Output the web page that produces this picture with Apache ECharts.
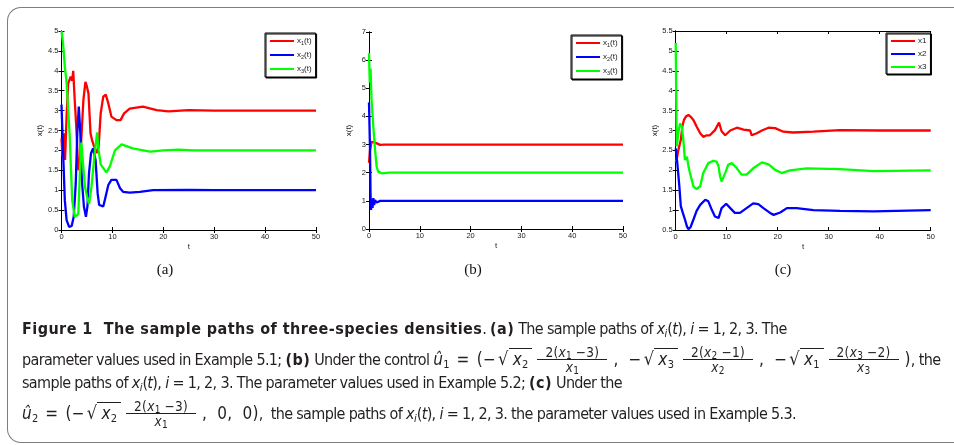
<!DOCTYPE html>
<html>
<head>
<meta charset="utf-8">
<script src="https://cdn.jsdelivr.net/npm/echarts@6/dist/echarts.min.js"></script>
<style>
  html, body { margin: 0; background: #fff; overflow: hidden; width: 954px; height: 445px; }
  #frame { position: absolute; left: 7px; top: 7px; width: 1000px; height: 434px; border: 1.5px solid #7d7d7d;
           border-right: none; border-radius: 14px 0 0 14px; }
  #chart { position: absolute; left: 0; top: 0; width: 954px; height: 445px; }
  .cap { position: absolute; left: 22px; font-family: "Liberation Sans Narrow", "DejaVu Sans Condensed", sans-serif;
         font-size: 16px; letter-spacing: -0.65px; color: #231f20; white-space: nowrap; line-height: 22px; height: 22px; }
  .cap b { font-weight: bold; letter-spacing: 0.45px; }
  .cap sub { font-size: 11px; vertical-align: -3px; line-height: 0; letter-spacing: 0; }
  .m { font-size: 17px; letter-spacing: 0.3px; }
  .eq { margin: 0 7px; }
  .rt { font-size: 18px; margin-left: 2px; }
  .frac { display: inline-flex; flex-direction: column; vertical-align: middle; font-size: 13.5px; letter-spacing: 0.3px;
          text-align: center; line-height: 14px; margin: 0 6px 0 5px; }
  .frac sub { font-size: 10px; vertical-align: -2px; }
  .num { border-bottom: 1px solid #231f20; padding: 0 8px; }
  .ov { border-top: 1px solid #231f20; padding: 0 4px; }
  .cm { margin-right: 10px; }
  .cl { margin-right: 8px; }
</style>
</head>
<body>
<div id="frame"></div>
<div id="chart"></div>
<div class="cap" style="top:318px"><b>Figure 1&nbsp;&nbsp;The sample paths of three-species densities</b>. <b>(a)</b> The sample paths of <i>x<sub>i</sub></i>(<i>t</i>), <i>i</i> = 1, 2, 3. The</div>
<div class="cap" style="top:345px">parameter values used in Example 5.1; <b>(b)</b> Under the control <span class="m"><i>û</i><sub>1</sub><span class="eq">=</span>(−<span class="rt">√</span><span class="ov"><i>x</i><sub>2</sub></span><span class="frac"><span class="num">2(<i>x</i><sub>1</sub> −3)</span><span><i>x</i><sub>1</sub></span></span><span class="cm">,</span>−<span class="rt">√</span><span class="ov"><i>x</i><sub>3</sub></span><span class="frac"><span class="num">2(<i>x</i><sub>2</sub> −1)</span><span><i>x</i><sub>2</sub></span></span><span class="cm">,</span>−<span class="rt">√</span><span class="ov"><i>x</i><sub>1</sub></span><span class="frac"><span class="num">2(<i>x</i><sub>3</sub> −2)</span><span><i>x</i><sub>3</sub></span></span>)</span>, the</div>
<div class="cap" style="top:372px">sample paths of <i>x<sub>i</sub></i>(<i>t</i>), <i>i</i> = 1, 2, 3. The parameter values used in Example 5.2; <b>(c)</b> Under the</div>
<div class="cap" style="top:399px"><span class="m"><i>û</i><sub>2</sub><span class="eq">=</span>(−<span class="rt">√</span><span class="ov"><i>x</i><sub>2</sub></span><span class="frac"><span class="num">2(<i>x</i><sub>1</sub> −3)</span><span><i>x</i><sub>1</sub></span></span><span class="cm">,</span>0<span class="cm">,</span>0)</span><span class="cl">,</span>the sample paths of <i>x<sub>i</sub></i>(<i>t</i>), <i>i</i> = 1, 2, 3. the parameter values used in Example 5.3.</div>
<script>
// 数据：每个子图三条样本路径 [t, x]
const aX1 = [[0,2.3],[0.2,1.84],[0.45,2.43],[0.7,1.76],[1,2.85],[1.3,3.68],[1.8,3.85],[2.1,3.75],[2.3,4.0],[2.6,3.26],[2.9,2.6],[3.3,1.5],[3.7,1.84],[4.3,3.26],[4.7,3.72],[5,3.6],[5.3,3.43],[5.7,2.43],[6,2.26],[6.4,2.1],[6.9,1.93],[7.3,2.1],[7.7,2.93],[8.2,3.35],[8.7,3.4],[9.2,3.18],[9.8,2.85],[10.8,2.76],[11.6,2.76],[12.3,2.93],[13.4,3.05],[16,3.1],[18.7,3.01],[21,2.98],[25,3.01],[30,3.0],[40,3.0],[50,3.0]];
const aX2 = [[0,3.15],[0.3,2.0],[0.65,0.75],[1,0.25],[1.5,0.08],[2,0.1],[2.4,0.33],[2.8,1.17],[3.1,2.43],[3.4,3.1],[3.7,2.43],[4,1.26],[4.4,0.59],[4.8,0.33],[5.1,0.6],[5.4,1.42],[5.8,1.93],[6.2,2.05],[6.7,1.75],[7.1,0.92],[7.4,0.63],[8.2,0.59],[8.5,0.75],[9.2,1.13],[9.8,1.26],[10.8,1.26],[11.5,1.05],[12.1,0.96],[13.4,0.94],[15.4,0.96],[18,1.0],[25,1.01],[30,1.0],[50,1.0]];
const aX3 = [[0,5.0],[0.3,4.7],[0.65,4.1],[1,3.7],[1.6,2.4],[2.1,0.75],[2.6,0.33],[3.3,0.4],[3.6,1.4],[3.9,2.2],[4.2,2.25],[4.6,1.1],[5,0.85],[5.4,0.65],[5.9,1.1],[6.5,1.9],[7,2.45],[7.3,2.0],[7.7,1.65],[8.8,1.45],[9.5,1.6],[10.5,2.0],[11.8,2.15],[14,2.05],[17.4,1.97],[20,2.0],[23,2.02],[26,2.0],[50,2.0]];

const bX1 = [[0,2.35],[0.2,2.8],[0.5,3.1],[1.2,3.07],[2.2,2.99],[3,3.0],[50,3.0]];
const bX2 = [[0,4.5],[0.2,2.8],[0.3,1.27],[0.4,0.68],[0.55,1.05],[0.7,0.75],[0.85,1.1],[1.0,0.85],[1.2,1.03],[1.5,0.94],[2.2,1.0],[50,1.0]];
const bX3 = [[0,6.25],[0.15,5.2],[0.3,5.7],[0.5,4.6],[0.85,3.64],[1.2,2.8],[1.5,2.22],[1.8,2.04],[2.5,1.98],[4,2.0],[50,2.0]];

const cX1 = [[0,2.2],[0.3,2.34],[0.5,2.5],[1,2.76],[1.3,3.1],[1.6,3.26],[2,3.35],[2.5,3.39],[2.9,3.35],[3.5,3.26],[4.1,3.1],[4.8,2.93],[5.4,2.84],[6.1,2.88],[6.7,2.88],[7.7,3.01],[8.5,3.2],[9,2.98],[9.7,2.88],[10.7,3.0],[12,3.07],[13.3,3.02],[14.6,3.0],[14.9,2.88],[15.9,2.93],[16.9,3.0],[18.2,3.07],[19.5,3.06],[21.1,2.97],[23,2.95],[27,2.97],[32.2,3.01],[40,3.0],[50,3.0]];
const cX2 = [[0,2.55],[0.3,2.2],[0.7,1.62],[1,1.1],[1.4,0.93],[1.8,0.77],[2.2,0.59],[2.5,0.52],[2.9,0.57],[3.5,0.77],[4.1,0.98],[4.8,1.13],[5.8,1.26],[6.4,1.22],[7.1,1.0],[7.7,0.84],[8.4,0.8],[9,1.05],[9.9,1.16],[10.7,1.05],[11.6,0.93],[12.6,0.93],[13.9,1.05],[15.2,1.17],[16.2,1.15],[17.2,1.05],[18.5,0.93],[19.2,0.88],[20.5,0.94],[21.8,1.05],[23.7,1.05],[27,1.0],[32.2,0.98],[38.8,0.97],[50,1.0]];
const cX3 = [[0,5.2],[0.2,2.6],[0.5,2.93],[0.85,3.18],[1.2,3.1],[1.5,2.76],[1.8,2.26],[2.2,2.34],[2.5,2.1],[2.8,1.93],[3.5,1.59],[4.1,1.53],[4.8,1.6],[5.4,1.93],[6.4,2.18],[7.4,2.24],[8,2.22],[8.4,2.1],[8.7,1.85],[9,1.72],[9.7,1.93],[10.3,2.14],[11,2.18],[12,2.05],[12.9,1.89],[13.9,1.89],[15.2,2.05],[16.9,2.2],[18.2,2.15],[19.5,2.01],[20.8,1.93],[22.4,2.0],[25.7,2.05],[32.2,2.03],[38.8,1.98],[50,2.0]];

// 坐标轴范围 [min, max, interval]
const xRange = [0, 50, 10];
const aYRange = [0, 5, 0.5];
const bYRange = [0, 7, 1];
const cYRange = [0.5, 5.5, 0.5];

const namesAB = ['x1(t)', 'x2(t)', 'x3(t)'];
const namesC = ['x1', 'x2', 'x3'];
const colors = ['#ff0000', '#0000ff', '#00ff00'];

let chart = echarts.init(document.querySelector('#chart'));

const grids = [
  { left: 61.5, top: 31, width: 254.5, height: 199 },
  { left: 369, top: 32, width: 254, height: 197 },
  { left: 675.7, top: 31, width: 255, height: 199 }
];

const labelFont = { fontSize: 7.5, color: '#222', fontFamily: 'Liberation Sans' };

let xAxes = [], yAxes = [];
[aYRange, bYRange, cYRange].forEach((yr, i) => {
  ['bottom', 'top'].forEach(pos => {
    xAxes.push({
      gridIndex: i, type: 'value', position: pos,
      min: xRange[0], max: xRange[1], interval: xRange[2],
      name: pos === 'bottom' ? 't' : '', nameLocation: 'middle', nameGap: 13,
      nameTextStyle: { fontSize: 8, color: '#222', fontFamily: 'Liberation Sans' },
      axisLine: { show: true, lineStyle: { color: '#000', width: 1 } },
      axisTick: { show: true, inside: true, length: 3, lineStyle: { color: '#000' } },
      axisLabel: Object.assign({ show: pos === 'bottom', margin: 3 }, labelFont),
      splitLine: { show: false }
    });
  });
  ['left', 'right'].forEach(pos => {
    yAxes.push({
      gridIndex: i, type: 'value', position: pos,
      min: yr[0], max: yr[1], interval: yr[2],
      name: pos === 'left' ? 'x(t)' : '', nameLocation: 'middle', nameGap: 16,
      nameTextStyle: { fontSize: 8, color: '#222', fontFamily: 'Liberation Sans' },
      axisLine: { show: true, lineStyle: { color: '#000', width: 1 } },
      axisTick: { show: true, inside: true, length: 3, lineStyle: { color: '#000' } },
      axisLabel: Object.assign({ show: pos === 'left', margin: 3 }, labelFont),
      splitLine: { show: false }
    });
  });
});

const panelData = [[aX1, aX2, aX3], [bX1, bX2, bX3], [cX1, cX2, cX3]];
let series = [];
panelData.forEach((set, i) => {
  set.forEach((d, k) => {
    series.push({
      name: i < 2 ? namesAB[k] : namesC[k],
      type: 'line', xAxisIndex: i * 2, yAxisIndex: i * 2,
      data: d, showSymbol: false, symbol: 'none',
      lineStyle: { color: colors[k], width: 2.3 },
      itemStyle: { color: colors[k] },
      animation: false
    });
  });
});

function makeLegend(names, left, top, sub) {
  return {
    data: names, orient: 'vertical', left: left, top: top,
    icon: 'rect', itemWidth: 24, itemHeight: 2, itemGap: 5,
    padding: [4, 4, 3, 5],
    backgroundColor: '#fff', borderColor: '#000', borderWidth: 1,
    shadowColor: '#000', shadowOffsetX: 1, shadowOffsetY: 1, shadowBlur: 0,
    selectedMode: false,
    formatter: sub ? (n) => 'x{s|' + n.charAt(1) + '}(t)' : (n) => n,
    textStyle: {
      fontSize: 8, color: '#222', fontFamily: 'Liberation Sans', padding: [0, 0, 0, -2],
      rich: { s: { fontSize: 5.5, padding: [4, 0, 0, 0], color: '#222' } }
    }
  };
}

let option = {
  animation: false,
  grid: grids.map(g => Object.assign({ show: false }, g)),
  xAxis: xAxes,
  yAxis: yAxes,
  legend: [
    makeLegend(namesAB, 265, 33, true),
    makeLegend(namesAB, 571, 35, true),
    makeLegend(namesC, 886, 33, false)
  ],
  series: series,
  graphic: [
    { type: 'text', x: 165, y: 270, style: { text: '(a)', font: '15px "Liberation Serif"', fill: '#111', textAlign: 'center', textVerticalAlign: 'middle' } },
    { type: 'text', x: 473, y: 270, style: { text: '(b)', font: '15px "Liberation Serif"', fill: '#111', textAlign: 'center', textVerticalAlign: 'middle' } },
    { type: 'text', x: 783, y: 270, style: { text: '(c)', font: '15px "Liberation Serif"', fill: '#111', textAlign: 'center', textVerticalAlign: 'middle' } }
  ]
};

chart.setOption(option);
</script>
</body>
</html>
